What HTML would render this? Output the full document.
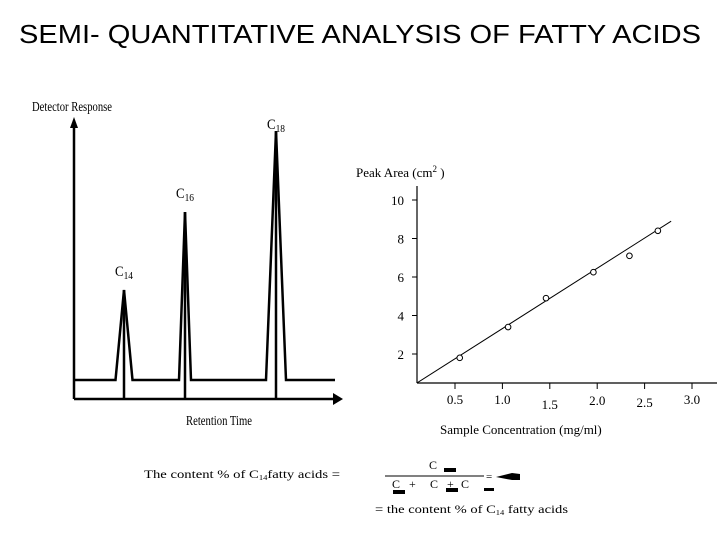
<!DOCTYPE html>
<html><head><meta charset="utf-8"><style>
body{margin:0;background:#fff;width:728px;height:546px;overflow:hidden}
svg{display:block}
.t{font-family:"Liberation Serif",serif;fill:#000}
</style></head><body>
<svg width="728" height="546">
<text x="19" y="43" font-family="Liberation Sans, sans-serif" font-size="26" textLength="682" lengthAdjust="spacingAndGlyphs">SEMI- QUANTITATIVE ANALYSIS OF  FATTY ACIDS</text>
<g id="chrom" stroke="#000" fill="none" stroke-width="2.5">
<line x1="74" y1="399" x2="74" y2="128"/>
<polygon points="70,128 78,128 74,117" fill="#000" stroke="none"/>
<line x1="74" y1="399" x2="334" y2="399"/>
<polygon points="333,393 333,405 343,399" fill="#000" stroke="none"/>
</g>
<text class="t" x="32" y="111" font-size="14" textLength="80" lengthAdjust="spacingAndGlyphs">Detector Response</text>
<text class="t" x="186" y="425" font-size="14" textLength="66" lengthAdjust="spacingAndGlyphs">Retention Time</text>
<g id="right"></g>
<text class="t" x="144" y="478" font-size="12" textLength="196" lengthAdjust="spacingAndGlyphs">The content % of C<tspan font-size="7" dy="2">14</tspan><tspan dy="-2">fatty acids =</tspan></text>
<text class="t" x="429" y="469" font-size="12">C</text>
<rect x="444" y="468" width="12" height="4"/>
<line x1="385" y1="476" x2="484" y2="476" stroke="#000"/>
<text class="t" y="488" font-size="12"><tspan x="392">C</tspan><tspan x="409">+</tspan><tspan x="430">C</tspan><tspan x="447">+</tspan><tspan x="461">C</tspan></text>
<rect x="393" y="490" width="12" height="4"/><rect x="446" y="488" width="12" height="4"/><rect x="484" y="488" width="10" height="3"/>
<text class="t" x="486" y="480" font-size="11">=</text>
<path d="M496 477 L512 473 L520 474 L520 480 L512 480 Z" fill="#000"/>
<text class="t" x="375" y="513" font-size="12" textLength="193" lengthAdjust="spacingAndGlyphs">= the content % of C<tspan font-size="7" dy="2">14</tspan><tspan dy="-2"> fatty acids</tspan></text>
</svg>
<script>
const NS="http://www.w3.org/2000/svg";
const peakNames=["C14","C16","C18"];
const peakTimes=[124,185,276];
const peakHeights=[90,168,249];
const peakWidths=[17,12,20];
const xTicks=[0.5,1.0,1.5,2.0,2.5,3.0];
const xTickLabels=["0.5","1.0","1.5","2.0","2.5","3.0"];
const yTicks=[2,4,6,8,10];
const yTickLabels=["2","4","6","8","10"];
const concValues=[0.55,1.06,1.46,1.96,2.34,2.64];
const areaValues=[1.8,3.4,4.9,6.25,7.1,8.4];
const fitStart=[0.1,0.5];
const fitEnd=[2.78,8.9];
function mk(t,a,p){const e=document.createElementNS(NS,t);for(const k in a)e.setAttribute(k,a[k]);(p||document.querySelector('svg')).appendChild(e);return e;}
const base=380;
const chrom=document.getElementById('chrom');
let d="M74 "+base;
peakTimes.forEach((t,i)=>{const w=peakWidths[i]/2;d+=` L${t-w} ${base} L${t} ${base-peakHeights[i]} L${t+w} ${base}`;});
d+=" L335 "+base;
const bl=mk('path',{d:d,fill:'none',stroke:'#000','stroke-width':2.5,'stroke-linejoin':'miter'},chrom);


peakTimes.forEach((t,i)=>{
 const l=mk('line',{x1:t,y1:base-peakHeights[i],x2:t,y2:398,stroke:'#000','stroke-width':2.5},chrom);
 
 
 const tx=mk('text',{x:t-9,y:base-peakHeights[i]-(i==2?2:14),'font-size':15,'class':'t',textLength:18,lengthAdjust:'spacingAndGlyphs'});
 tx.innerHTML='C<tspan font-size="11" dy="3">'+peakNames[i].slice(1)+'</tspan>';
 
 
});
const X=v=>407.6+94.8*v, Y=v=>392.5-19.25*v;
const g=document.getElementById('right');
mk('line',{x1:417,y1:186,x2:417,y2:383,stroke:'#000','stroke-width':1.2},g);
mk('line',{x1:417,y1:383,x2:717,y2:383,stroke:'#000','stroke-width':1.2},g);
const ylbl=mk('text',{x:356,y:177,'font-size':13,'class':'t'},g);
ylbl.innerHTML='Peak Area (cm<tspan font-size="9" dy="-5">2</tspan><tspan dy="5"> )</tspan>';


const xl=mk('text',{x:440,y:434,'font-size':13,'class':'t'},g);
xl.textContent='Sample Concentration (mg/ml)';


const xo=[0,0,5,1,3,0];
xTicks.forEach((v,i)=>{
 mk('line',{x1:X(v),y1:383,x2:X(v),y2:389,stroke:'#000'},g);
 const t=mk('text',{x:X(v),y:404+xo[i],'font-size':13,'class':'t','text-anchor':'middle'},g);
 t.textContent=xTickLabels[i];
 
 
});
yTicks.forEach((v,i)=>{
 mk('line',{x1:412,y1:Y(v),x2:417,y2:Y(v),stroke:'#000'},g);
 const t=mk('text',{x:404,y:Y(v)+5,'font-size':13,'class':'t','text-anchor':'end'},g);
 t.textContent=yTickLabels[i];
 
 
});
const fl=mk('line',{x1:X(fitStart[0]),y1:Y(fitStart[1]),x2:X(fitEnd[0]),y2:Y(fitEnd[1]),stroke:'#000','stroke-width':1},g);


concValues.forEach((c,i)=>{
 const p=mk('circle',{cx:X(c),cy:Y(areaValues[i]),r:2.8,fill:'#fff',stroke:'#000','stroke-width':1},g);
 
 
});
</script>
</body></html>
